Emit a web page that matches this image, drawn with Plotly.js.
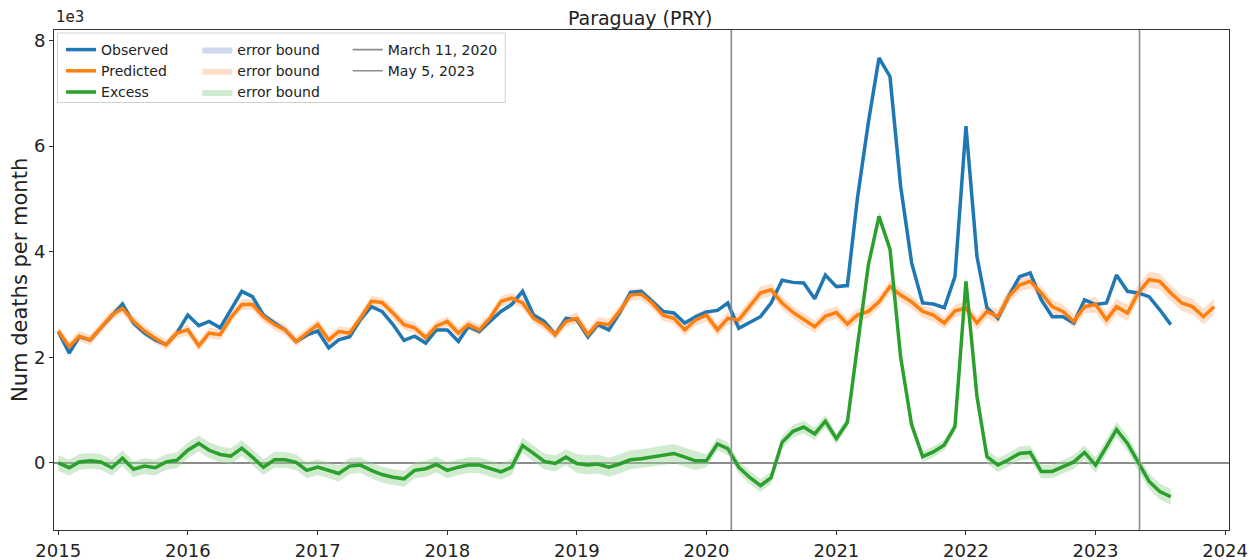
<!DOCTYPE html>
<html>
<head>
<meta charset="utf-8">
<script src="https://cdn.plot.ly/plotly-3.0.1.min.js"></script>
<style>html,body{margin:0;padding:0;background:#fff;}#chart{width:1259px;height:560px;}</style>
</head>
<body>
<div id="chart"></div>
<script>
// ---- data (thousands of deaths per month) ----
const startYear = 2015;
const yearLabels = ['2015','2016','2017','2018','2019','2020','2021','2022','2023','2024'];
const yAxisTitle = 'Num deaths per month';

const observed = [
  2.49, 2.08, 2.39, 2.33, 2.56, 2.80, 3.01, 2.65, 2.46, 2.33, 2.24, 2.46,
  2.80, 2.60, 2.68, 2.56, 2.90, 3.25, 3.15, 2.80, 2.65, 2.52, 2.30, 2.42,
  2.50, 2.18, 2.33, 2.39, 2.71, 2.96, 2.87, 2.62, 2.32, 2.40, 2.27, 2.52,
  2.52, 2.30, 2.58, 2.49, 2.68, 2.87, 3.00, 3.25, 2.80, 2.68, 2.43, 2.74,
  2.71, 2.39, 2.62, 2.52, 2.84, 3.23, 3.25, 3.06, 2.87, 2.84, 2.65, 2.77,
  2.86, 2.89, 3.03, 2.55, 2.65, 2.77, 3.03, 3.46, 3.42, 3.41, 3.11, 3.56,
  3.34, 3.36, 5.00, 6.45, 7.67, 7.32, 5.24, 3.79, 3.03, 3.01, 2.94, 3.53,
  6.38, 3.91, 2.94, 2.74, 3.15, 3.53, 3.60, 3.09, 2.77, 2.77, 2.65, 3.09,
  3.00, 3.03, 3.56, 3.25, 3.22, 3.15, 2.90, 2.62
];

const predicted = [
  2.50, 2.20, 2.40, 2.33, 2.56, 2.80, 2.93, 2.68, 2.50, 2.36, 2.24, 2.46,
  2.52, 2.22, 2.46, 2.43, 2.75, 3.00, 3.00, 2.77, 2.62, 2.52, 2.30, 2.46,
  2.62, 2.33, 2.49, 2.46, 2.74, 3.06, 3.04, 2.84, 2.62, 2.56, 2.37, 2.59,
  2.68, 2.46, 2.62, 2.52, 2.74, 3.06, 3.12, 3.03, 2.74, 2.62, 2.43, 2.68,
  2.74, 2.43, 2.65, 2.62, 2.87, 3.18, 3.20, 3.03, 2.80, 2.74, 2.52, 2.71,
  2.80, 2.52, 2.74, 2.71, 2.96, 3.22, 3.28, 3.03, 2.85, 2.71, 2.58, 2.78,
  2.85, 2.63, 2.80, 2.87, 3.05, 3.34, 3.18, 3.05, 2.87, 2.80, 2.65, 2.88,
  2.93, 2.65, 2.87, 2.77, 3.15, 3.37, 3.44, 3.22, 2.96, 2.87, 2.68, 2.96,
  3.00, 2.71, 2.96, 2.84, 3.22, 3.47, 3.44, 3.22, 3.03, 2.96, 2.77, 2.96
];

const excess = [
  0.00, -0.09, 0.02, 0.04, 0.02, -0.09, 0.09, -0.12, -0.06, -0.09, 0.02, 0.05,
  0.24, 0.37, 0.24, 0.16, 0.13, 0.28, 0.11, -0.08, 0.06, 0.06, 0.01, -0.14,
  -0.08, -0.14, -0.20, -0.06, -0.04, -0.14, -0.22, -0.27, -0.30, -0.14, -0.11, -0.03,
  -0.14, -0.08, -0.04, -0.04, -0.11, -0.17, -0.08, 0.33, 0.18, 0.03, -0.01, 0.11,
  -0.01, -0.04, -0.02, -0.08, -0.02, 0.06, 0.08, 0.11, 0.14, 0.18, 0.11, 0.04,
  0.04, 0.36, 0.27, -0.08, -0.27, -0.43, -0.28, 0.39, 0.60, 0.68, 0.55, 0.79,
  0.46, 0.77, 2.20, 3.75, 4.67, 4.05, 2.00, 0.72, 0.12, 0.21, 0.34, 0.69,
  3.44, 1.26, 0.12, -0.04, 0.06, 0.18, 0.20, -0.16, -0.16, -0.07, 0.02, 0.20,
  -0.04, 0.31, 0.63, 0.37, 0.00, -0.35, -0.54, -0.64
];

// half-width of the shaded error bands, per year (2015..2023)
const observedErrByYear = [0, 0, 0, 0, 0, 0, 0, 0, 0];
const predictedErrByYear = [0.10, 0.10, 0.10, 0.10, 0.11, 0.12, 0.12, 0.13, 0.15];
const excessErrByYear = [0.15, 0.15, 0.15, 0.15, 0.18, 0.12, 0.10, 0.13, 0.15];

const eventDates = ['2020-03-11', '2023-05-05'];
const eventLabels = ['March 11, 2020', 'May 5, 2023'];

// ---- build ----
function monthDates(n) {
  const out = [];
  for (let i = 0; i < n; i++) {
    const y = startYear + Math.floor(i / 12);
    const m = (i % 12) + 1;
    out.push(y + '-' + (m < 10 ? '0' : '') + m + '-01');
  }
  return out;
}
function band(vals, errByYear, name, color, legend) {
  const d = monthDates(vals.length);
  const up = vals.map((v, i) => v + errByYear[Math.floor(i / 12)]);
  const lo = vals.map((v, i) => v - errByYear[Math.floor(i / 12)]);
  return {
    x: d.concat(d.slice().reverse()),
    y: up.concat(lo.slice().reverse()),
    type: 'scatter', mode: 'lines', fill: 'toself',
    fillcolor: color, line: {width: 0, color: color},
    name: name, legend: legend, hoverinfo: 'skip'
  };
}

const C_BLUE = '#1f77b4', C_ORANGE = '#ff7f0e', C_GREEN = '#2ca02c', C_GREY = '#8c8c8c';
const yRange = [-1.27, 8.2];

const traces = [
  band(observed, observedErrByYear, 'error bound', 'rgba(170,188,225,0.55)', 'legend2'),
  band(predicted, predictedErrByYear, 'error bound', 'rgba(255,175,120,0.4)', 'legend2'),
  band(excess, excessErrByYear, 'error bound', 'rgba(150,210,150,0.45)', 'legend2'),
  {x: monthDates(observed.length), y: observed, type: 'scatter', mode: 'lines', name: 'Observed',
   line: {color: C_BLUE, width: 3.5}, legend: 'legend'},
  {x: monthDates(predicted.length), y: predicted, type: 'scatter', mode: 'lines', name: 'Predicted',
   line: {color: C_ORANGE, width: 3.5}, legend: 'legend'},
  {x: monthDates(excess.length), y: excess, type: 'scatter', mode: 'lines', name: 'Excess',
   line: {color: C_GREEN, width: 3.5}, legend: 'legend'}
];
eventDates.forEach((d, i) => {
  traces.push({x: [d, d], y: yRange, type: 'scatter', mode: 'lines', name: eventLabels[i],
    line: {color: C_GREY, width: 1.6}, legend: 'legend3', hoverinfo: 'skip'});
});

const FONT = 'DejaVu Sans, sans-serif';
const tickFont = {family: FONT, size: 18, color: '#222'};
const legFont = {family: FONT, size: 14, color: '#222'};
const legCommon = {orientation: 'v', bgcolor: 'rgba(0,0,0,0)', borderwidth: 0, font: legFont,
  yanchor: 'top', xanchor: 'left', y: 0.992, tracegroupgap: 0, itemwidth: 30, traceorder: 'normal'};

const layout = {
  width: 1259, height: 560,
  margin: {l: 54, r: 30, t: 30, b: 30},
  paper_bgcolor: '#fff', plot_bgcolor: '#fff',
  title: {text: 'Paraguay (PRY)', x: 0.5085, xanchor: 'center', y: 0.968, yanchor: 'middle',
          font: {family: FONT, size: 19, color: '#222'}},
  xaxis: {
    type: 'date', range: ['2014-12-20', '2024-01-12'],
    tickvals: yearLabels.map(y => y + '-01-01'), ticktext: yearLabels,
    showgrid: false, zeroline: false, showline: true, mirror: true,
    linecolor: '#333', linewidth: 1, ticks: 'outside', ticklen: 4, tickcolor: '#333',
    tickfont: tickFont, automargin: false
  },
  yaxis: {
    range: yRange, tickvals: [0, 2, 4, 6, 8], ticktext: ['0', '2', '4', '6', '8'],
    showgrid: false, zeroline: true, zerolinecolor: C_GREY, zerolinewidth: 1.6,
    showline: true, mirror: true, linecolor: '#333', linewidth: 1,
    ticks: 'outside', ticklen: 4, tickcolor: '#333', tickfont: tickFont, automargin: false
  },
  legend: Object.assign({}, legCommon, {x: 0.006}),
  legend2: Object.assign({}, legCommon, {x: 0.122}),
  legend3: Object.assign({}, legCommon, {x: 0.25}),
  shapes: [{type: 'rect', xref: 'paper', yref: 'paper', x0: 0.003, x1: 0.384, y0: 0.855, y1: 0.994,
            line: {color: '#d0d0d0', width: 1}, fillcolor: 'rgba(255,255,255,0.8)', layer: 'above'}],
  annotations: [
    {text: '1e3', xref: 'paper', yref: 'paper', x: 0, y: 1.005, xanchor: 'left', yanchor: 'bottom',
     showarrow: false, font: {family: FONT, size: 15, color: '#222'}},
    {text: yAxisTitle, xref: 'paper', yref: 'paper', x: -0.029, y: 0.5, xanchor: 'center', yanchor: 'middle',
     textangle: -90, showarrow: false, font: {family: FONT, size: 21, color: '#222'}}
  ],
  showlegend: true
};

Plotly.newPlot('chart', traces, layout, {staticPlot: true, displayModeBar: false});
</script>
</body>
</html>
